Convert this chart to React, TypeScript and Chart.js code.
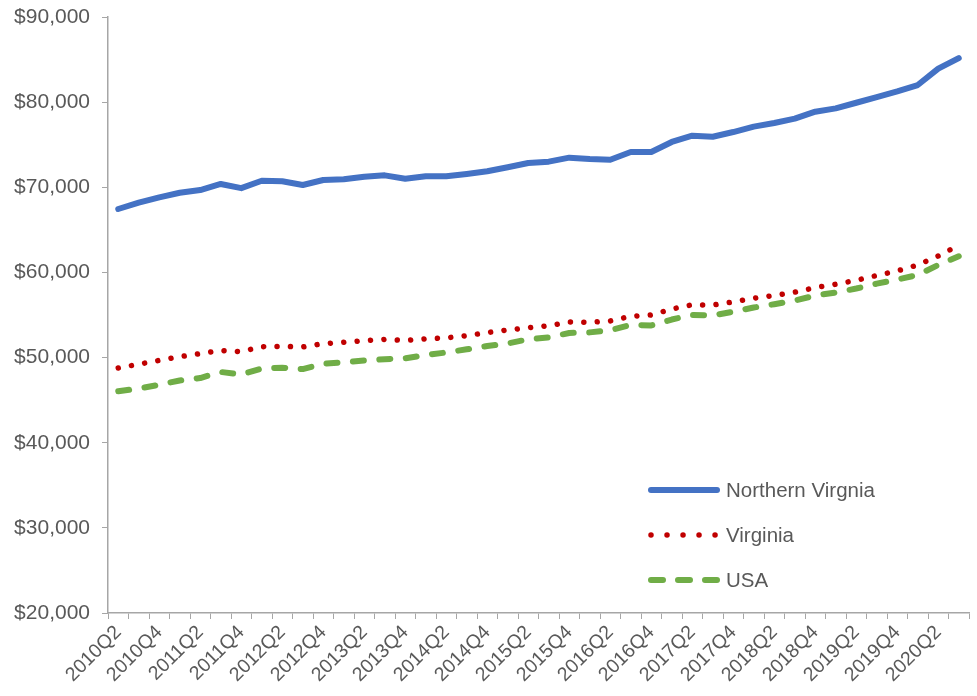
import React, { useEffect, useRef } from "react";
import { Chart, registerables } from "chart.js";

Chart.register(...registerables);

const quarters = [
  "2010Q2", "2010Q3", "2010Q4",
  "2011Q1", "2011Q2", "2011Q3", "2011Q4",
  "2012Q1", "2012Q2", "2012Q3", "2012Q4",
  "2013Q1", "2013Q2", "2013Q3", "2013Q4",
  "2014Q1", "2014Q2", "2014Q3", "2014Q4",
  "2015Q1", "2015Q2", "2015Q3", "2015Q4",
  "2016Q1", "2016Q2", "2016Q3", "2016Q4",
  "2017Q1", "2017Q2", "2017Q3", "2017Q4",
  "2018Q1", "2018Q2", "2018Q3", "2018Q4",
  "2019Q1", "2019Q2", "2019Q3", "2019Q4",
  "2020Q1", "2020Q2", "2020Q3",
];

const northernVirginia = [
  67450, 68190, 68820, 69360, 69680, 70390, 69900, 70770, 70700, 70270,
  70860, 70940, 71240, 71400, 71010, 71290, 71290, 71560, 71880, 72350,
  72850, 73010, 73480, 73320, 73240, 74150, 74150, 75320, 76060, 75940,
  76490, 77120, 77550, 78060, 78880, 79270, 79930, 80600, 81270, 82010,
  83930, 85180,
];

const virginia = [
  48770, 49220, 49670, 50100, 50460, 50830, 50700, 51280, 51320, 51240,
  51640, 51790, 51980, 52140, 52000, 52200, 52320, 52560, 52940, 53240,
  53500, 53740, 54180, 54140, 54300, 54850, 55000, 55700, 56200, 56170,
  56530, 56970, 57290, 57680, 58220, 58610, 59080, 59640, 60180, 60870,
  61930, 63190,
];

const usa = [
  46040, 46370, 46800, 47310, 47600, 48310, 48010, 48720, 48810, 48650,
  49280, 49450, 49660, 49810, 49900, 50300, 50600, 50970, 51360, 51650,
  52150, 52380, 52890, 52960, 53210, 53850, 53770, 54470, 55000, 54940,
  55390, 55880, 56270, 56700, 57290, 57640, 58110, 58680, 59170, 59700,
  60870, 61900,
];

const seriesNames = ["Northern Virgnia", "Virginia", "USA"];

const FONT = "'Liberation Sans', Arial, sans-serif";
const TEXT = "#595959";
const AXIS = "#a6a6a6";

const legendPlugin = {
  id: "customLegend",
  afterDraw(chart: any) {
    const ctx = chart.ctx;
    const ys = [490, 535, 580];
    chart.data.datasets.forEach((ds: any, i: number) => {
      const y = ys[i];
      ctx.save();
      ctx.strokeStyle = ds.borderColor;
      ctx.lineWidth = ds.borderWidth;
      ctx.lineCap = "round";
      ctx.setLineDash(ds.legendDash || []);
      ctx.beginPath();
      ctx.moveTo(651, y);
      ctx.lineTo(717, y);
      ctx.stroke();
      ctx.restore();
      ctx.save();
      ctx.fillStyle = TEXT;
      ctx.font = `20.5px ${FONT}`;
      ctx.textBaseline = "middle";
      ctx.textAlign = "left";
      ctx.fillText(ds.label, 726, y + 1);
      ctx.restore();
    });
  },
};

export default function App() {
  const ref = useRef<HTMLCanvasElement | null>(null);

  useEffect(() => {
    if (!ref.current) return;
    const chart = new Chart(ref.current, {
      type: "line",
      data: {
        labels: quarters,
        datasets: [
          {
            label: seriesNames[0],
            data: northernVirginia,
            borderColor: "#4472C4",
            borderWidth: 6,
            borderCapStyle: "round",
            borderJoinStyle: "round",
            pointRadius: 0,
            tension: 0,
            fill: false,
          } as any,
          {
            label: seriesNames[1],
            data: virginia,
            borderColor: "#C00000",
            borderWidth: 5.5,
            borderCapStyle: "round",
            borderJoinStyle: "round",
            borderDash: [0.01, 13.4],
            legendDash: [0.01, 16],
            pointRadius: 0,
            tension: 0,
            fill: false,
          } as any,
          {
            label: seriesNames[2],
            data: usa,
            borderColor: "#70AD47",
            borderWidth: 6,
            borderCapStyle: "round",
            borderJoinStyle: "round",
            borderDash: [11, 15.5],
            legendDash: [12, 15],
            pointRadius: 0,
            tension: 0,
            fill: false,
          } as any,
        ],
      },
      options: {
        animation: false,
        responsive: true,
        maintainAspectRatio: false,
        layout: { padding: { top: 17, right: 8, left: 0, bottom: 0 } },
        plugins: {
          legend: { display: false },
          tooltip: { enabled: false },
        },
        scales: {
          x: {
            type: "category",
            offset: true,
            grid: {
              offset: true,
              drawOnChartArea: false,
              drawTicks: true,
              tickLength: 6,
              color: AXIS,
            },
            border: { color: AXIS, width: 1.5 },
            ticks: {
              autoSkip: false,
              maxRotation: 45,
              minRotation: 45,
              padding: 2,
              color: TEXT,
              font: { family: FONT, size: 19.5 },
              callback: (_v: any, idx: number) => (idx % 2 === 0 ? quarters[idx] : ""),
            },
            afterFit: (scale: any) => {
              scale.height = 83;
              scale.paddingLeft = 0;
              scale.paddingRight = 0;
            },
          },
          y: {
            min: 20000,
            max: 90000,
            grid: {
              drawOnChartArea: false,
              drawTicks: true,
              tickLength: 6,
              color: AXIS,
            },
            border: { color: AXIS, width: 1.5 },
            ticks: {
              stepSize: 10000,
              padding: 12,
              color: TEXT,
              font: { family: FONT, size: 21 },
              callback: (v: any) => "$" + Number(v).toLocaleString("en-US"),
            },
            afterFit: (scale: any) => {
              scale.width = 108;
              scale.paddingTop = 0;
              scale.paddingBottom = 0;
            },
          },
        },
      },
      plugins: [legendPlugin],
    });
    return () => chart.destroy();
  }, []);

  return (
    <div style={{ position: "fixed", left: 0, top: 0, width: 977, height: 696, background: "#fff" }}>
      <canvas ref={ref} />
    </div>
  );
}
